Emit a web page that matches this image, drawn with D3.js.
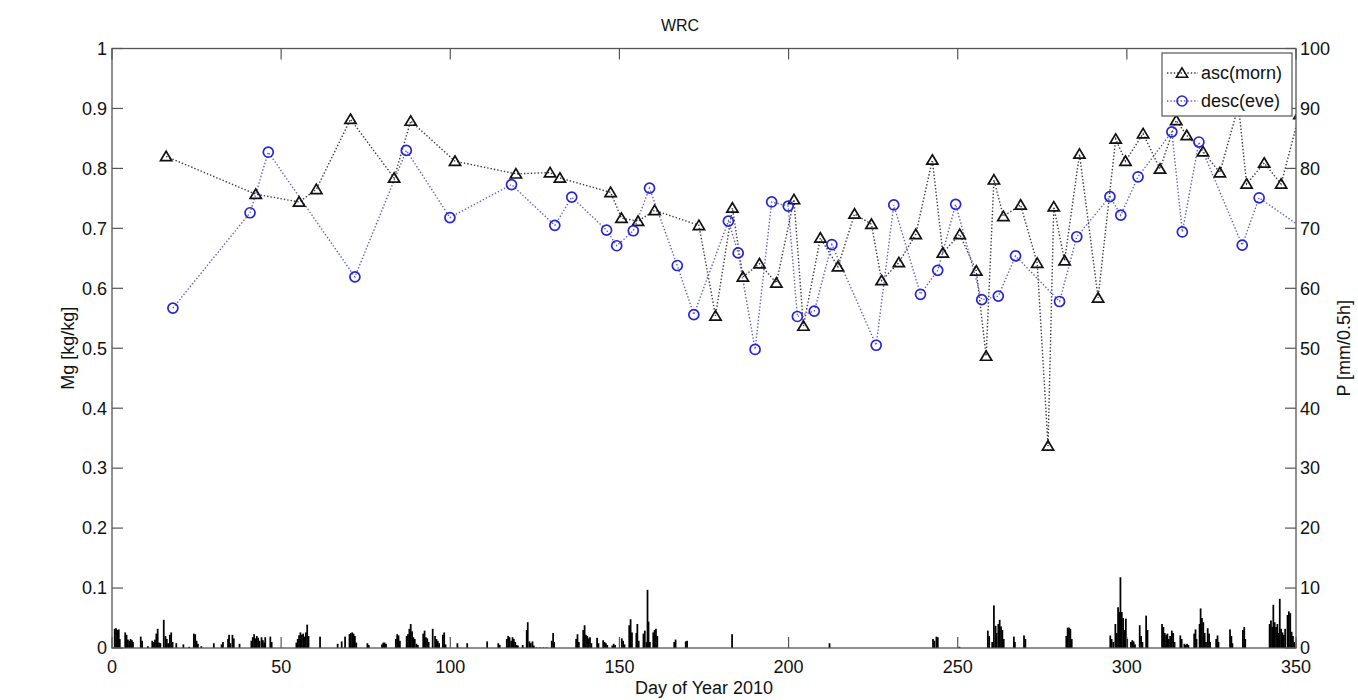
<!DOCTYPE html>
<html>
<head>
<meta charset="utf-8">
<script src="https://cdn.jsdelivr.net/npm/d3@7"></script>
<style>
  html, body { margin: 0; padding: 0; background: #fff; }
  svg { display: block; font-family: "Liberation Sans", Arial, Helvetica, sans-serif; }
</style>
</head>
<body>
<svg id="chart" width="1358" height="700"></svg>
<script>
// Ascending (morning) overpass soil moisture: day of year and Mg [kg/kg]
const ascDay = [16.0, 42.5, 55.3, 60.4, 70.5, 83.4, 88.3, 101.4, 119.4, 129.5, 132.4, 147.4, 150.6, 155.5,
  160.4, 173.5, 178.4, 183.4, 186.5, 191.4, 196.4, 201.6, 204.4, 209.4, 214.6, 219.5, 224.5, 227.5,
  232.6, 237.6, 242.5, 245.6, 250.6, 255.5, 258.4, 260.7, 263.5, 268.6, 273.5, 276.7, 278.4, 281.6,
  286.0, 291.5, 296.7, 299.6, 304.8, 309.8, 314.6, 317.7, 322.5, 327.5, 333.0, 335.4, 340.6, 345.6, 351.0];
const ascMg = [0.820, 0.757, 0.744, 0.765, 0.882, 0.784, 0.879, 0.812, 0.791, 0.793, 0.784, 0.760, 0.717, 0.712,
  0.730, 0.705, 0.554, 0.734, 0.619, 0.641, 0.609, 0.748, 0.537, 0.684, 0.636, 0.724, 0.707, 0.613,
  0.643, 0.690, 0.814, 0.659, 0.690, 0.629, 0.487, 0.781, 0.720, 0.739, 0.642, 0.337, 0.736, 0.646,
  0.824, 0.584, 0.849, 0.812, 0.858, 0.799, 0.880, 0.855, 0.828, 0.793, 0.905, 0.774, 0.809, 0.774, 0.890];

// Descending (evening) overpass soil moisture
const descDay = [18.0, 40.8, 46.2, 71.8, 87.0, 99.9, 118.1, 130.9, 135.9, 146.2, 149.2, 154.1, 158.9, 167.1,
  172.0, 182.2, 185.1, 190.1, 195.0, 199.9, 202.6, 207.6, 212.8, 225.9, 231.1, 239.0, 244.1, 249.4,
  257.1, 262.0, 267.1, 280.1, 285.2, 295.0, 298.2, 303.3, 313.3, 316.4, 321.3, 334.1, 339.1, 352.0];
const descMg = [0.567, 0.726, 0.827, 0.619, 0.830, 0.718, 0.773, 0.705, 0.752, 0.697, 0.671, 0.696, 0.767, 0.638,
  0.556, 0.712, 0.659, 0.498, 0.744, 0.737, 0.553, 0.562, 0.673, 0.505, 0.739, 0.590, 0.630, 0.740,
  0.581, 0.587, 0.654, 0.578, 0.686, 0.753, 0.722, 0.786, 0.861, 0.694, 0.844, 0.672, 0.751, 0.700];

// Half-hourly precipitation bursts: [day of year, P mm/0.5h]
const rain = [
  [0.8,3.2],[1.2,3.3],[1.6,3.0],[2.0,3.1],[2.3,1.5],
  [3.9,2.6],[4.3,2.2],[4.7,1.4],[5.1,1.2],[5.5,1.5],[5.9,1.3],[6.2,1.0],
  [8.5,1.9],[8.9,1.2],[10.6,0.3],
  [11.9,1.2],[12.3,1.0],[12.7,1.4],[13.1,2.4],[13.5,3.2],[13.9,0.9],[14.3,0.8],
  [15.3,4.7],[15.8,2.0],[16.2,1.5],[16.6,0.8],[17.1,2.2],[17.5,2.6],[17.9,1.0],
  [19.0,0.8],[21.1,0.6],[22.8,0.2],
  [24.2,2.4],[24.6,2.3],[25.0,1.2],[25.4,0.7],[26.4,0.3],
  [30.1,0.8],[32.4,0.6],[32.8,1.0],
  [34.3,1.5],[34.6,2.2],[35.0,0.8],[35.6,2.2],[36.0,1.6],[37.7,0.7],
  [41.2,1.2],[41.6,1.8],[42.0,2.3],[42.4,1.6],[42.8,2.0],[43.2,1.7],[43.6,1.2],[44.2,1.8],[44.6,1.3],[45.0,0.9],[45.3,1.8],
  [46.8,1.9],[47.2,1.0],
  [54.5,0.9],[54.9,1.5],[55.3,2.1],[55.7,2.6],[56.1,2.2],[56.5,2.4],[56.9,1.9],[57.3,2.6],[57.7,3.9],[58.1,2.0],
  [61.5,1.9],
  [66.7,0.7],[67.9,1.1],[68.9,1.9],
  [70.2,2.3],[70.6,2.5],[71.0,2.6],[71.4,2.4],[71.8,2.0],[72.2,0.9],
  [75.5,0.8],[75.9,0.5],
  [79.8,0.6],[80.2,0.9],[80.6,0.9],[81.0,0.7],
  [83.9,1.5],[84.3,2.3],[84.7,2.1],[85.1,1.2],
  [87.1,2.0],[87.5,2.3],[87.9,3.2],[88.3,4.0],[88.7,2.8],[89.1,1.8],[89.5,1.5],[90.0,0.7],[90.4,0.5],
  [92.0,2.4],[92.4,2.9],[92.8,1.8],[93.2,1.6],[93.6,1.0],
  [94.8,3.2],[95.5,2.0],[95.9,1.5],[96.3,1.2],[96.7,0.8],
  [97.8,2.2],[98.2,2.6],[98.6,0.6],
  [102.1,0.8],[105.0,0.8],[110.9,1.1],[114.2,0.8],[114.6,0.5],
  [116.7,1.5],[117.1,2.0],[117.5,1.8],[118.0,1.2],[118.4,1.8],[118.8,1.5],[119.2,1.0],[119.6,0.5],[120.0,0.4],[121.4,0.5],
  [122.6,3.0],[122.9,4.3],[123.4,1.1],[123.8,0.8],[124.3,1.1],[124.7,0.4],
  [125.5,0.1],[126.5,0.1],[127.5,0.1],[128.5,0.1],
  [130.0,1.2],[130.4,2.5],[130.7,1.0],
  [137.2,1.5],[137.6,2.3],[138.0,1.0],
  [139.3,3.0],[139.7,3.8],[140.1,2.2],[140.5,2.0],[140.9,1.6],[141.3,1.8],[141.7,0.8],
  [143.4,1.7],[143.8,0.8],
  [145.2,1.3],[145.6,1.0],[146.0,0.8],[146.4,0.5],
  [147.9,0.4],[148.3,0.7],[148.7,0.5],
  [150.7,1.6],[151.1,1.2],[151.5,0.6],
  [152.9,3.8],[153.3,4.8],[153.7,2.6],
  [155.0,2.5],[155.3,4.0],[155.7,1.2],
  [157.1,2.4],[157.5,2.9],[158.0,1.0],[158.3,9.7],[158.6,4.4],[159.0,1.0],
  [160.0,2.6],[160.4,3.0],[160.8,3.2],[161.2,2.0],
  [166.2,1.0],[166.6,1.4],[169.6,1.1],[170.0,1.2],
  [183.3,2.3],[212.1,0.8],
  [242.7,1.5],[243.1,1.2],[243.7,1.9],[244.1,1.8],[250.5,0.2],
  [258.9,2.9],[259.3,2.0],[260.2,1.0],[260.7,7.1],[261.2,3.7],[261.5,2.5],[262.0,4.0],[262.4,4.7],[262.8,3.6],[263.2,3.0],[263.6,1.5],
  [266.6,1.9],[266.9,1.0],[269.6,2.1],[270.0,1.5],
  [282.1,2.0],[282.5,3.4],[282.9,3.4],[283.3,3.2],[283.7,1.5],
  [295.1,2.1],[295.5,1.5],[296.0,1.0],[296.6,4.0],[297.0,2.5],[297.4,6.8],[297.8,6.0],[298.1,11.8],[298.5,6.0],[298.9,5.0],[299.3,3.0],[299.7,4.9],[300.1,1.5],
  [301.2,1.0],[301.6,1.3],[302.0,1.1],[302.4,0.6],
  [303.8,3.8],[304.2,2.0],[304.6,1.0],
  [305.7,5.4],[306.1,3.0],
  [310.4,4.0],[310.8,3.5],[311.2,2.5],[311.6,2.2],[312.0,2.4],[312.4,1.5],[312.8,2.0],[313.3,2.9],[313.7,2.5],[314.1,1.0],
  [315.8,2.1],[316.2,1.5],
  [317.0,0.7],[317.4,0.5],[317.8,0.7],[318.2,0.5],
  [319.9,2.4],[320.3,3.1],[320.6,1.5],
  [321.5,4.0],[321.8,6.6],[322.2,5.0],[322.6,4.3],[323.0,2.5],[323.4,1.0],[323.9,3.3],[324.3,2.4],[324.6,1.0],
  [326.4,1.5],[326.8,2.1],[327.1,1.0],
  [330.5,3.1],[330.9,2.0],[331.2,0.8],
  [334.3,3.0],[334.7,3.5],[335.0,1.5],
  [342.2,4.0],[342.6,4.6],[343.0,3.5],[343.3,7.2],[343.7,4.3],[344.1,3.5],[344.5,4.0],[344.9,2.5],[345.2,8.2],[345.6,3.2],
  [346.0,2.6],[346.4,2.2],[346.8,3.2],[347.5,5.5],[347.9,6.1],[348.3,5.8],[348.7,2.7],[349.1,2.0],[349.5,1.0]
];

// Axis ticks
const xTicks = [0, 50, 100, 150, 200, 250, 300, 350];
const yLeftTicks = [0, 0.1, 0.2, 0.3, 0.4, 0.5, 0.6, 0.7, 0.8, 0.9, 1];
const yRightTicks = [0, 10, 20, 30, 40, 50, 60, 70, 80, 90, 100];

const svg = d3.select("#chart");
const m = { left: 112, right: 1296, top: 48.5, bottom: 648 };
const x = d3.scaleLinear().domain([0, 350]).range([m.left, m.right]);
const yL = d3.scaleLinear().domain([0, 1]).range([m.bottom, m.top]);
const yR = d3.scaleLinear().domain([0, 100]).range([m.bottom, m.top]);
const W = m.right - m.left, H = m.bottom - m.top;
const axisColor = "#555";
const tickLen = 11;

svg.append("defs").append("clipPath").attr("id", "plotClip")
  .append("rect").attr("x", m.left).attr("y", m.top).attr("width", W).attr("height", H);

const plot = svg.append("g").attr("clip-path", "url(#plotClip)");

// Precipitation bars on the right-hand axis
plot.append("g").selectAll("rect").data(rain).join("rect")
  .attr("x", d => x(d[0] - 0.26))
  .attr("width", d => x(d[0] + 0.26) - x(d[0] - 0.26))
  .attr("y", d => yR(d[1]))
  .attr("height", d => yR(0) - yR(d[1]))
  .attr("fill", "#000");

// Dotted connecting lines
const ascPts = ascDay.map((d, i) => [d, ascMg[i]]);
const descPts = descDay.map((d, i) => [d, descMg[i]]);
const line = d3.line().x(d => x(d[0])).y(d => yL(d[1]));

plot.append("path").datum(ascPts).attr("d", line)
  .attr("fill", "none").attr("stroke", "#3a3a3a").attr("stroke-width", 1.4)
  .attr("stroke-dasharray", "1.4 2");
plot.append("path").datum(descPts).attr("d", line)
  .attr("fill", "none").attr("stroke", "#6060c0").attr("stroke-width", 1.4)
  .attr("stroke-dasharray", "1.4 2");

// Markers
const triPath = "M0,-5.2L5.6,4.2L-5.6,4.2Z";
plot.append("g").selectAll("path").data(ascPts).join("path")
  .attr("d", triPath)
  .attr("transform", d => `translate(${x(d[0])},${yL(d[1])})`)
  .attr("fill", "none").attr("stroke", "#111").attr("stroke-width", 1.7);
plot.append("g").selectAll("circle").data(descPts).join("circle")
  .attr("cx", d => x(d[0])).attr("cy", d => yL(d[1])).attr("r", 5)
  .attr("fill", "none").attr("stroke", "#2424d8").attr("stroke-width", 1.7);

// Axes box
svg.append("rect").attr("x", m.left).attr("y", m.top).attr("width", W).attr("height", H)
  .attr("fill", "none").attr("stroke", axisColor).attr("stroke-width", 1.3);

const ticks = svg.append("g").attr("stroke", axisColor).attr("stroke-width", 1.2);
xTicks.forEach(t => {
  ticks.append("line").attr("x1", x(t)).attr("x2", x(t)).attr("y1", m.bottom).attr("y2", m.bottom - tickLen);
  ticks.append("line").attr("x1", x(t)).attr("x2", x(t)).attr("y1", m.top).attr("y2", m.top + tickLen);
});
yLeftTicks.forEach(t => {
  ticks.append("line").attr("x1", m.left).attr("x2", m.left + tickLen).attr("y1", yL(t)).attr("y2", yL(t));
});
yRightTicks.forEach(t => {
  ticks.append("line").attr("x1", m.right).attr("x2", m.right - tickLen).attr("y1", yR(t)).attr("y2", yR(t));
});

const fs = 18;
const labels = svg.append("g").attr("fill", "#111").attr("font-size", fs);
xTicks.forEach(t => {
  labels.append("text").attr("x", x(t)).attr("y", 673).attr("text-anchor", "middle").text(t);
});
yLeftTicks.forEach(t => {
  labels.append("text").attr("x", m.left - 5).attr("y", yL(t)).attr("dy", "0.35em")
    .attr("text-anchor", "end").text(d3.format("~g")(t));
});
yRightTicks.forEach(t => {
  labels.append("text").attr("x", m.right + 4).attr("y", yR(t)).attr("dy", "0.35em")
    .attr("text-anchor", "start").text(t);
});

// Titles
labels.append("text").attr("x", 680).attr("y", 31).attr("text-anchor", "middle")
  .attr("font-size", 16).text("WRC");
labels.append("text").attr("x", 704).attr("y", 694).attr("text-anchor", "middle").text("Day of Year 2010");
labels.append("text").attr("transform", `translate(74,${(m.top + m.bottom) / 2}) rotate(-90)`)
  .attr("text-anchor", "middle").text("Mg [kg/kg]");
labels.append("text").attr("transform", `translate(1350,${(m.top + m.bottom) / 2}) rotate(-90)`)
  .attr("text-anchor", "middle").text("P [mm/0.5h]");

// Legend
const lg = svg.append("g").attr("transform", "translate(1162,53)");
lg.append("rect").attr("width", 130).attr("height", 63).attr("fill", "#fff")
  .attr("stroke", axisColor).attr("stroke-width", 1.2);
const entries = [
  { label: "asc(morn)", type: "tri", color: "#3a3a3a" },
  { label: "desc(eve)", type: "circ", color: "#6060c0" }
];
entries.forEach((e, i) => {
  const cy = 20 + i * 28;
  lg.append("line").attr("x1", 5).attr("x2", 36).attr("y1", cy).attr("y2", cy)
    .attr("stroke", e.color).attr("stroke-width", 1.3).attr("stroke-dasharray", "1.4 2");
  if (e.type === "tri") {
    lg.append("path").attr("d", triPath).attr("transform", `translate(20,${cy})`)
      .attr("fill", "none").attr("stroke", "#111").attr("stroke-width", 1.6);
  } else {
    lg.append("circle").attr("cx", 20).attr("cy", cy).attr("r", 5)
      .attr("fill", "none").attr("stroke", "#2424d8").attr("stroke-width", 1.6);
  }
  lg.append("text").attr("x", 39).attr("y", cy).attr("dy", "0.35em")
    .attr("font-size", fs).attr("fill", "#111").text(e.label);
});
</script>
</body>
</html>
